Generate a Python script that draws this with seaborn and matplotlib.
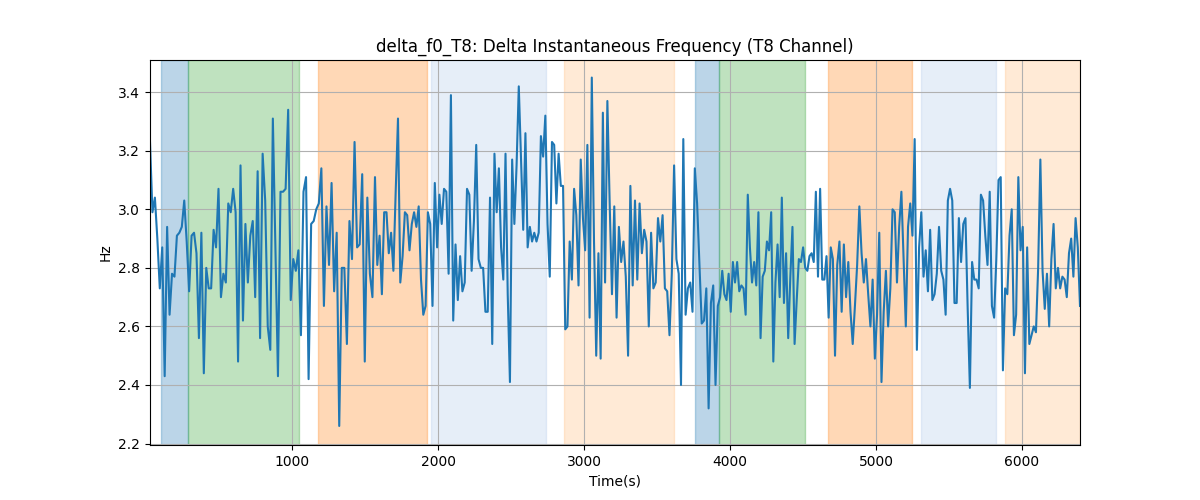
import numpy as np
import pandas as pd
import matplotlib
matplotlib.use("Agg")
import matplotlib.pyplot as plt
import seaborn as sns

# values, left to right, in eight stretches
seg1 = [3.23, 2.99, 3.04, 2.90, 2.73, 2.87, 2.43, 2.94, 2.64, 2.78, 2.77, 2.91, 2.92, 2.94, 3.03,
        2.89, 2.72, 2.91, 2.92, 2.85, 2.56, 2.92, 2.44, 2.80, 2.73, 2.73, 2.93, 2.87, 3.07, 2.70,
        2.78, 2.75, 3.02, 2.99, 3.07, 2.99, 2.48, 3.15, 2.62, 2.95, 2.75, 2.91, 2.96, 2.70, 3.13]
seg2 = [2.56, 3.19, 3.03, 2.60, 2.52, 3.31, 2.87, 2.43, 3.06, 3.06, 3.07, 3.34, 2.69, 2.83, 2.79,
        2.86, 2.57, 3.06, 3.11, 2.42, 2.95, 2.96, 3.00, 3.02, 3.14, 2.67, 3.01, 2.81, 3.09, 2.72,
        2.92, 2.26, 2.80, 2.80, 2.54, 2.96, 2.83, 3.23, 2.87, 2.88, 3.12, 2.48, 3.04, 2.78, 2.70]
seg3 = [3.11, 2.81, 2.91, 2.71, 2.99, 2.99, 2.85, 2.92, 2.79, 3.06, 3.31, 2.75, 2.84, 2.99, 2.98,
        2.86, 2.95, 2.99, 2.94, 3.01, 2.76, 2.64, 2.67, 2.99, 2.95, 2.67, 3.09, 2.87, 3.05, 2.95,
        3.07, 3.06, 2.78, 3.39, 2.62, 2.88, 2.69, 2.84, 2.72, 2.75, 3.07, 3.05, 2.79, 2.96, 3.22,
        2.83, 2.80, 2.80, 2.65, 2.65]
seg4 = [3.04, 2.54, 3.19, 2.99, 3.14, 2.87, 2.76, 3.19, 2.71, 2.41, 3.17, 2.95, 3.15, 3.42, 3.17,
        2.93, 3.26, 2.87, 2.94, 2.89, 2.92, 2.89, 2.92, 3.25, 3.18, 3.32, 2.95, 2.77, 3.23, 3.22,
        3.02, 3.19, 3.08, 3.08, 2.59, 2.60, 2.89, 2.76, 3.07, 2.98, 2.74, 3.17, 2.97, 2.86, 3.22,
        2.63, 3.45, 2.89, 2.50, 2.85, 2.49, 3.33]
seg5 = [2.75, 3.37, 3.02, 2.71, 3.01, 2.63, 2.94, 2.82, 2.89, 2.77, 2.50, 3.08, 2.74, 3.03, 2.76,
        3.02, 2.85, 2.93, 2.89, 2.60, 2.92, 2.73, 2.75, 2.97, 2.89, 2.98, 2.73, 2.72, 2.57, 2.78,
        3.15, 2.83, 2.78, 2.40, 3.24, 2.64, 2.73, 2.75, 2.65, 3.14, 3.02, 2.81, 2.61, 2.62, 2.73,
        2.32, 2.68, 2.74, 2.40, 2.67]
seg6 = [2.70, 2.79, 2.71, 2.69, 2.78, 2.65, 2.82, 2.75, 2.82, 2.72, 2.74, 2.73, 2.64, 3.05, 2.87,
        2.75, 2.82, 2.74, 2.99, 2.56, 2.77, 2.79, 2.89, 2.86, 2.99, 2.48, 2.75, 2.88, 2.70, 3.04,
        2.68, 2.85, 2.56, 2.77, 2.94, 2.54, 2.69, 2.83, 2.82, 2.87, 2.80, 2.79, 2.84, 2.85, 2.82,
        3.06, 2.77, 3.07, 2.76, 2.76, 2.84, 2.63, 2.87, 2.83]
seg7 = [2.50, 2.81, 2.89, 2.65, 2.88, 2.70, 2.82, 2.65, 2.54, 2.67, 2.81, 3.01, 2.85, 2.75, 2.83,
        2.71, 2.60, 2.76, 2.49, 2.64, 2.92, 2.41, 2.65, 2.79, 2.60, 2.73, 3.00, 2.99, 2.75, 2.94,
        3.06, 2.83, 2.60, 2.94, 3.02, 2.91, 3.24, 2.52, 2.87, 2.99, 2.77, 2.86, 2.72, 2.93, 2.69,
        2.71, 2.78, 2.94, 2.79, 2.76, 2.64, 3.03]
seg8 = [3.07, 3.03, 2.68, 2.68, 2.97, 2.82, 2.95, 2.97, 2.66, 2.39, 2.82, 2.76, 2.76, 2.73, 3.05,
        3.03, 2.91, 2.81, 3.06, 2.67, 2.63, 2.83, 3.10, 3.11, 2.45, 2.73, 2.71, 2.91, 3.00, 2.57,
        2.64, 3.11, 2.86, 2.94, 2.44, 2.87, 2.54, 2.57, 2.60, 2.58, 2.80, 3.17, 2.79, 2.66, 2.78,
        2.60, 2.83, 2.95, 2.73, 2.80, 2.73, 2.77, 2.76, 2.70, 2.85, 2.90, 2.77, 2.97, 2.87, 2.67]
segments = [seg1, seg2, seg3, seg4, seg5, seg6, seg7, seg8]
# time at which each stretch starts (last entry = end of the recording)
seg_edges = [27, 781, 1568, 2356, 3144, 3932, 4719, 5507, 6397]

# shaded phases
span_start = [103, 290, 1180, 1952, 2863, 3760, 3927, 4674, 5308, 5884]
span_end = [290, 1045, 1927, 2737, 3616, 3927, 4514, 5247, 5822, 6400]
span_color = ["C0", "C2", "C1", "#aec7e8", "#ffbb78", "C0", "C2", "C1", "#aec7e8", "#ffbb78"]

times = []
for i, seg in enumerate(segments):
    last = i == len(segments) - 1
    times.extend(np.linspace(seg_edges[i], seg_edges[i + 1], len(seg), endpoint=last))
df = pd.DataFrame({"time": times, "hz": sum(segments, [])})

fig, ax = plt.subplots(figsize=(12, 5))
for s, e, c in zip(span_start, span_end, span_color):
    ax.axvspan(s, e, color=c, alpha=0.3)

sns.lineplot(data=df, x="time", y="hz", ax=ax, color="C0", linewidth=1.5)

ax.set_xlim(df["time"].min(), df["time"].max())
ax.set_ylim(2.195, 3.51)
ax.grid(True)
ax.set_title("delta_f0_T8: Delta Instantaneous Frequency (T8 Channel)")
ax.set_xlabel("Time(s)")
ax.set_ylabel("Hz")

fig.savefig("out.png", dpi=100)
